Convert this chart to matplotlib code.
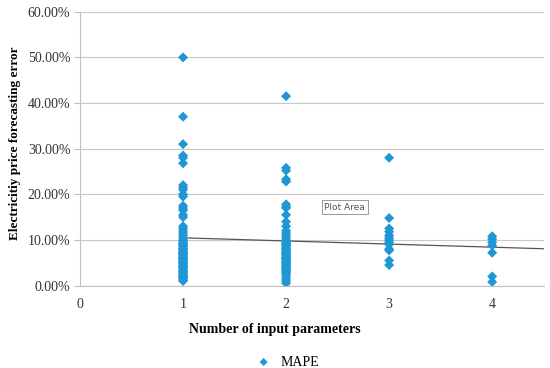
import numpy as np
import matplotlib.pyplot as plt
from matplotlib.ticker import FuncFormatter

# MAPE (%) per number of input parameters
mape_1 = [50, 37, 31, 28.5, 28, 26.8, 22, 21.5, 21, 20, 19.5, 17.5, 17, 16.5,
          15.5, 15, 13, 12.5, 12, 11.5, 11, 10.5, 10, 9.5, 9, 8.5, 8, 7.5, 7,
          6.5, 6, 5.5, 5, 4.5, 4, 3.5, 3, 2.5, 2, 1.5, 1,
          9.8, 9.2, 8.8, 8.2, 7.8, 7.2, 6.8, 6.2, 5.8, 5.2, 4.8, 4.2, 3.8,
          3.2, 2.8, 2.2, 1.8, 1.2, 8.0, 7.0, 6.0, 5.0, 4.0, 3.0, 2.0]
mape_2 = [41.5, 25.8, 25.2, 23.3, 22.8, 17.8, 17.3, 17, 15.5, 14, 13, 12,
          11.5, 11, 10.5, 10, 9.5, 9, 8.5, 8, 7.5, 7, 6, 5, 3, 2.5, 1, 0.5,
          9.8, 9.2, 8.8, 8.2, 7.8, 7.2, 6.8, 6.5, 6.2, 5.8, 5.5, 5.2, 4.8,
          4.5, 4.2, 3.8, 3.5, 2.0, 1.5, 3.2, 2.8, 4.0, 5.0, 6.0]
mape_3 = [28, 14.8, 12.5, 11.8, 11, 10.5, 10, 9.5, 9, 8, 7.7, 5.5, 4.5]
mape_4 = [10.8, 10.2, 9.5, 8.8, 7.2, 2.0, 0.8]

params = [1, 2, 3, 4]
groups = [mape_1, mape_2, mape_3, mape_4]

x = np.concatenate([[p] * len(g) for p, g in zip(params, groups)])
y = np.concatenate(groups) / 100.0

blue = '#1f97d4'
serif = ['Liberation Serif', 'DejaVu Serif']

fig = plt.figure(figsize=(5.5, 3.68), dpi=100)
ax = fig.add_axes([0.1455, 0.224, 0.843, 0.744])

ax.scatter(x, y, marker='D', s=26, color=blue, edgecolors='none', zorder=3, label='MAPE')

# linear trend line
k, b = np.polyfit(x, y, 1)
xt = np.array([1, 4.5])
ax.plot(xt, k * xt + b, color='#555555', lw=0.9, zorder=2)

ax.set_xlim(0, 4.5)
ax.set_ylim(0, 0.6)
ax.set_xticks([0, 1, 2, 3, 4])
ax.set_yticks(np.arange(0, 0.61, 0.1))
ax.yaxis.set_major_formatter(FuncFormatter(lambda v, _: f'{v * 100:.2f}%'))
ax.grid(axis='y', color='#c8c8c8', lw=0.8)
ax.set_axisbelow(True)

for s in ['top', 'right']:
    ax.spines[s].set_visible(False)
for s in ['left', 'bottom']:
    ax.spines[s].set_color('#bfbfbf')
ax.tick_params(axis='y', length=4, color='#bfbfbf', labelsize=10, labelcolor='#333333', pad=3)
ax.tick_params(axis='x', length=0, labelsize=10, labelcolor='#333333', pad=9)
for lbl in ax.get_xticklabels() + ax.get_yticklabels():
    lbl.set_family(serif)

ax.set_xlabel('Number of input parameters', family=serif, fontweight='bold',
              fontsize=10, labelpad=8)
ax.xaxis.set_label_coords(0.42, -0.137)
ax.set_ylabel('Electricitiy price forecasting error', family=serif, fontweight='bold',
              fontsize=9.5, labelpad=4)
ax.yaxis.set_label_coords(-0.128, 0.52)

ax.text(2.57, 0.172, 'Plot Area', fontsize=6.5, color='#555555', ha='center', va='center',
        bbox=dict(boxstyle='square,pad=0.3', fc='white', ec='#888888', lw=0.6))

fig.legend(loc='center', bbox_to_anchor=(0.517, 0.016), frameon=False,
           prop={'family': serif, 'size': 10}, handletextpad=0.2, markerscale=0.8)

fig.savefig('out.png', dpi=100)
